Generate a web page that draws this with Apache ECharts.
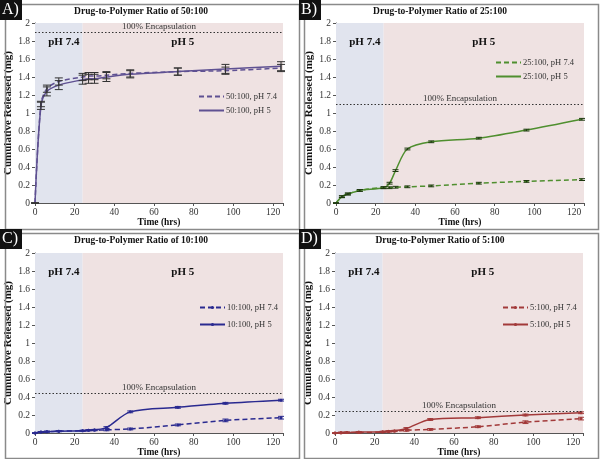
<!DOCTYPE html>
<html><head><meta charset="utf-8">
<script src="https://cdn.jsdelivr.net/npm/echarts@6/dist/echarts.min.js"></script>
<style>html,body{margin:0;padding:0;background:#fff}#c{width:600px;height:459px}</style>
</head><body><div id="c"></div>
<script>
// ---- data ----
const times = [0, 3, 6, 12, 24, 27, 30, 36, 48, 72, 96, 124];
const panelLetters = ['A)', 'B)', 'C)', 'D)'];
const panelTitles = ['Drug-to-Polymer Ratio of 50:100', 'Drug-to-Polymer Ratio of 25:100', 'Drug-to-Polymer Ratio of 10:100', 'Drug-to-Polymer Ratio of 5:100'];
const legendNames74 = ['50:100, pH 7.4', '25:100, pH 7.4', '10:100, pH 7.4', '5:100, pH 7.4'];
const legendNames5 = ['50:100, pH 5', '25:100, pH 5', '10:100, pH 5', '5:100, pH 5'];
const encapsulation = [1.9, 1.1, 0.44, 0.24];
const phSwitch = 24;
const xMax = 125;

const a74 = [0, 1.10, 1.27, 1.35, 1.40, 1.41, 1.41, 1.42, 1.44, 1.46, 1.47, 1.50];
const a5  = [0, 1.08, 1.24, 1.31, 1.37, 1.38, 1.38, 1.40, 1.43, 1.46, 1.49, 1.52];
const aErr74 = [0, 0.03, 0.04, 0.04, 0.04, 0.04, 0.04, 0.04, 0.04, 0.04, 0.04, 0.04];
const aErr5  = [0, 0.04, 0.05, 0.05, 0.05, 0.05, 0.05, 0.05, 0.04, 0.04, 0.05, 0.05];

const b74 = [0, 0.07, 0.10, 0.14, 0.17, 0.17, 0.175, 0.18, 0.19, 0.22, 0.24, 0.26];
const b5  = [0, 0.07, 0.10, 0.14, 0.17, 0.22, 0.36, 0.60, 0.68, 0.72, 0.81, 0.93];
const bErr74 = [0, 0.01, 0.01, 0.01, 0.01, 0.01, 0.01, 0.01, 0.01, 0.01, 0.01, 0.01];
const bErr5  = [0, 0.01, 0.01, 0.01, 0.01, 0.01, 0.01, 0.01, 0.01, 0.01, 0.01, 0.01];

const c74 = [0, 0.01, 0.015, 0.02, 0.025, 0.03, 0.03, 0.035, 0.045, 0.09, 0.14, 0.17];
const c5  = [0, 0.01, 0.015, 0.02, 0.025, 0.03, 0.035, 0.06, 0.235, 0.285, 0.33, 0.365];
const cErr74 = [0, 0.005, 0.005, 0.005, 0.005, 0.005, 0.005, 0.01, 0.01, 0.01, 0.015, 0.015];
const cErr5  = [0, 0.005, 0.005, 0.005, 0.005, 0.005, 0.005, 0.01, 0.01, 0.01, 0.01, 0.01];

const d74 = [0, 0, 0.005, 0.005, 0.01, 0.015, 0.02, 0.03, 0.04, 0.07, 0.12, 0.16];
const d5  = [0, 0.005, 0.005, 0.01, 0.015, 0.02, 0.025, 0.05, 0.15, 0.17, 0.20, 0.225];
const dErr74 = [0, 0.005, 0.005, 0.005, 0.005, 0.005, 0.005, 0.01, 0.01, 0.01, 0.015, 0.015];
const dErr5  = [0, 0.005, 0.005, 0.005, 0.005, 0.005, 0.005, 0.01, 0.01, 0.01, 0.01, 0.01];

const yTicks = [0, 0.2, 0.4, 0.6, 0.8, 1, 1.2, 1.4, 1.6, 1.8, 2];
const xTicks = [0, 20, 40, 60, 80, 100, 120];

// ---- layout/style ----
const colors = ['#5f5192', '#4f8f2f', '#2a2a90', '#a23a3a'];
const grids = [
  {left: 35, right: 317, top: 23, bottom: 256},
  {left: 336, right: 16, top: 23, bottom: 256},
  {left: 35, right: 317, top: 253, bottom: 26},
  {left: 335, right: 17, top: 253, bottom: 26}
];
const boxes = [[3, 2], [302, 2], [3, 231], [302, 231]];
const legendPos = [[198, 92], [495, 58], [199, 303], [502, 303]];
const symbols = ['none', 'none', 'circle', 'circle'];
const serif = 'Liberation Serif';

const v74 = [a74, b74, c74, d74];
const v5 = [a5, b5, c5, d5];
const e74 = [aErr74, bErr74, cErr74, dErr74];
const e5 = [aErr5, bErr5, cErr5, dErr5];

function pairs(vals) { return times.map((t, i) => [t, vals[i]]); }
function errs(vals, er) { return times.map((t, i) => [t, vals[i] - er[i], vals[i] + er[i]]); }

function errRender(color, w) {
  return function (params, api) {
    const x = api.value(0), lo = api.value(1), hi = api.value(2);
    const p1 = api.coord([x, hi]), p2 = api.coord([x, lo]);
    const st = {stroke: color, lineWidth: 1};
    return {type: 'group', children: [
      {type: 'line', shape: {x1: p1[0], y1: p1[1], x2: p2[0], y2: p2[1]}, style: st},
      {type: 'line', shape: {x1: p1[0] - w, y1: p1[1], x2: p1[0] + w, y2: p1[1]}, style: st},
      {type: 'line', shape: {x1: p2[0] - w, y1: p2[1], x2: p2[0] + w, y2: p2[1]}, style: st}
    ]};
  };
}

const option = {
  animation: false,
  backgroundColor: '#fff',
  textStyle: {fontFamily: serif},
  title: [], grid: [], xAxis: [], yAxis: [], series: [], legend: [], graphic: []
};

for (let k = 0; k < 4; k++) {
  const g = grids[k];
  const bx = boxes[k];
  option.grid.push({left: g.left, right: g.right, top: g.top, bottom: g.bottom, containLabel: false});
  option.title.push({
    text: panelTitles[k], left: bx[0] + 138, top: bx[1] + 5, textAlign: 'center', padding: 0,
    textStyle: {fontFamily: serif, fontSize: 9.5, fontWeight: 'bold', color: '#111'}
  });
  option.xAxis.push({
    type: 'value', gridIndex: k, min: 0, max: xMax, interval: 20,
    name: 'Time (hrs)', nameLocation: 'middle', nameGap: 14,
    nameTextStyle: {fontFamily: serif, fontSize: 9.5, fontWeight: 'bold', color: '#111'},
    axisLine: {lineStyle: {color: '#555', width: 1}},
    axisTick: {length: 3, lineStyle: {color: '#555'}},
    axisLabel: {fontFamily: serif, fontSize: 9.5, color: '#333', margin: 4,
      formatter: v => (xTicks.indexOf(v) >= 0 ? String(v) : '')},
    splitLine: {show: false}
  });
  option.yAxis.push({
    type: 'value', gridIndex: k, min: 0, max: 2, interval: 0.2,
    name: 'Cumulative Released (mg)', nameLocation: 'middle', nameGap: 21, nameRotate: 90,
    nameTextStyle: {fontFamily: serif, fontSize: 11, fontWeight: 'bold', color: '#111'},
    axisLine: {show: true, lineStyle: {color: '#555', width: 1}},
    axisTick: {show: true, length: 3, lineStyle: {color: '#555'}},
    axisLabel: {fontFamily: serif, fontSize: 9.5, color: '#333', margin: 5,
      formatter: v => { const t = yTicks.find(q => Math.abs(q - v) < 1e-6); return t === undefined ? '' : String(t); }},
    splitLine: {show: false}
  });
  const col = colors[k];
  option.series.push({
    type: 'line', name: '__bg' + k, xAxisIndex: k, yAxisIndex: k, data: [], silent: true, z: 0,
    markArea: {
      silent: true,
      label: {position: 'insideTop', distance: 14, fontFamily: serif, fontSize: 11, fontWeight: 'bold', color: '#111'},
      data: [
        [{name: 'pH 7.4', xAxis: 0, itemStyle: {color: '#e1e4ee'}, label: {offset: [5, 0]}}, {xAxis: phSwitch}],
        [{name: 'pH 5', xAxis: phSwitch, itemStyle: {color: '#efe2e2'}}, {xAxis: xMax}]
      ]
    },
    markLine: {
      silent: true, symbol: 'none',
      lineStyle: {type: [1.5, 2], color: '#333', width: 1},
      label: {position: 'insideMiddleTop', formatter: '100% Encapsulation', fontFamily: serif, fontSize: 9, color: '#333', distance: 1},
      data: [{yAxis: encapsulation[k]}]
    }
  });
  option.series.push({
    type: 'line', name: legendNames74[k], xAxisIndex: k, yAxisIndex: k, data: pairs(v74[k]),
    smooth: 0.3, symbol: symbols[k], symbolSize: 3, z: 3,
    lineStyle: {color: col, width: 1.5, type: [5, 3]}, itemStyle: {color: col}
  });
  option.series.push({
    type: 'line', name: legendNames5[k], xAxisIndex: k, yAxisIndex: k, data: pairs(v5[k]),
    smooth: 0.3, symbol: symbols[k], symbolSize: 3, z: 3,
    lineStyle: {color: col, width: 1.5, type: 'solid'}, itemStyle: {color: col}
  });
  const errCol = k === 0 ? '#333' : (k === 1 ? '#1e3a10' : col);
  const capW = k === 0 ? 4 : 3;
  option.series.push({
    type: 'custom', name: '__e74' + k, xAxisIndex: k, yAxisIndex: k, z: 4,
    renderItem: errRender(errCol, capW), data: errs(v74[k], e74[k]), encode: {x: 0, y: [1, 2]}
  });
  option.series.push({
    type: 'custom', name: '__e5' + k, xAxisIndex: k, yAxisIndex: k, z: 4,
    renderItem: errRender(errCol, capW), data: errs(v5[k], e5[k]), encode: {x: 0, y: [1, 2]}
  });
  const hasSym = symbols[k] !== 'none';
  option.legend.push({
    data: [legendNames74[k], legendNames5[k]], orient: 'vertical', padding: 0,
    left: legendPos[k][0], top: legendPos[k][1], itemWidth: 25, itemHeight: hasSym ? 4 : 8, itemGap: hasSym ? 8 : 5,
    itemStyle: hasSym ? {} : {opacity: 0},
    textStyle: {fontFamily: serif, fontSize: 8.5, color: '#333', padding: [0, 0, 0, -3]}, selectedMode: false
  });
  option.graphic.push({
    type: 'rect', left: bx[0], top: bx[1], shape: {width: 294, height: 225}, silent: true, z: 100,
    style: {fill: 'none', stroke: '#8a8a8a', lineWidth: 1.5}
  });
  option.graphic.push({
    type: 'rect', left: bx[0] - 3, top: bx[1] - 2, shape: {width: 22, height: 20}, silent: true, z: 101,
    style: {fill: '#111'}
  });
  option.graphic.push({
    type: 'text', left: bx[0] - 1, top: bx[1], silent: true, z: 102,
    style: {text: panelLetters[k], fill: '#fff', font: '16px "Liberation Serif"'}
  });
}

const chart = echarts.init(document.getElementById('c'), null, {renderer: 'canvas'});
chart.setOption(option);
</script>
</body></html>
